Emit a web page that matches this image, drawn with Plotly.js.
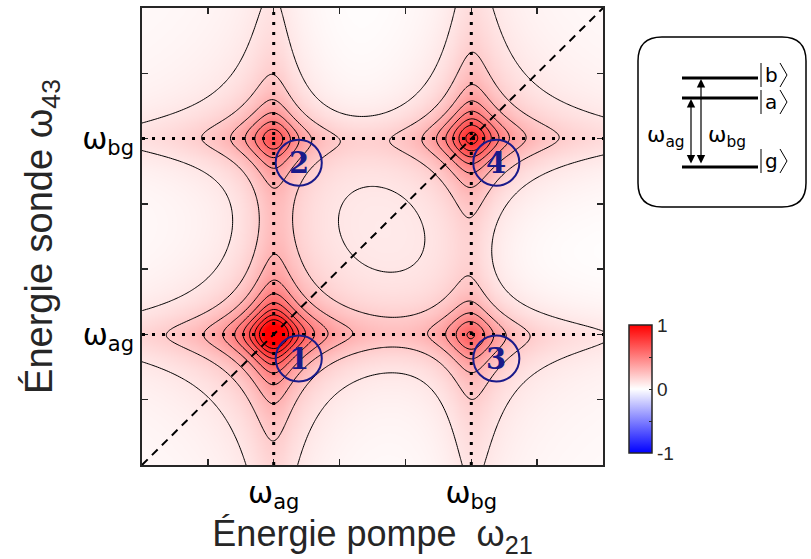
<!DOCTYPE html>
<html>
<head>
<meta charset="utf-8">
<script src="https://cdn.plot.ly/plotly-3.0.1.min.js"></script>
<style>
  html, body { margin: 0; padding: 0; background: #fff; }
  #chart { width: 811px; height: 559px; }
</style>
</head>
<body>
<div id="chart"></div>
<script>
// Transition energies (axis units) and their tick labels
const transitionEnergy = [2, 5];
const transitionLabel = ['ω<sub>ag</sub>', 'ω<sub>bg</sub>'];

// 2D peaks: pump position, probe position, amplitude, phase (deg), label
const peakPump  = [2, 2, 5, 5];
const peakProbe = [2, 5, 2, 5];
const peakAmp   = [1.0, 0.66, 0.60, 0.97];
const peakPhase = [0, 90, 90, 0];
const peakLabel = ['1', '2', '3', '4'];

// Homogeneous linewidth of the Lorentzian lineshape
const lineWidth = [0.3];

// Contour levels: start, end, step
const contourLevels = [0.1, 0.95, 0.1];

// Axis span and tick positions
const axisRange = [0, 7];
const tickPositions = [0, 1, 2, 3, 4, 5, 6, 7];

// Colour bar ticks
const cbarTicks = [-1, -0.5, 0, 0.5, 1];
const cbarText  = ['-1', '', '0', '', '1'];

// --- spectrum: modulus of the coherent sum of complex 2D Lorentzians ---
const N = 211;
const grid = [];
for (let i = 0; i < N; i++) grid.push(axisRange[0] + (axisRange[1] - axisRange[0]) * i / (N - 1));
const g = lineWidth[0];
const z = grid.map(y => grid.map(x => {
  let re = 0, im = 0;
  for (let k = 0; k < peakAmp.length; k++) {
    const a = x - peakPump[k], b = y - peakProbe[k];
    const dr = a * b - g * g, di = g * (a + b);
    const d2 = dr * dr + di * di;
    const tr = peakAmp[k] * g * g * dr / d2, ti = -peakAmp[k] * g * g * di / d2;
    const c = Math.cos(peakPhase[k] * Math.PI / 180), s = Math.sin(peakPhase[k] * Math.PI / 180);
    re += tr * c - ti * s;
    im += tr * s + ti * c;
  }
  return Math.hypot(re, im);
}));

// plot-area geometry (pixels) used to place items outside the axes
const L = 142, R = 603, T = 8, B = 465;
const X = px => (px - L) / (R - L);
const Y = py => (B - py) / (B - T);

const tickText = tickPositions.map(v => {
  const i = transitionEnergy.indexOf(v);
  return i >= 0 ? transitionLabel[i] : '';
});

const traces = [
  {
    type: 'heatmap', x: grid, y: grid, z: z, zsmooth: 'best',
    zmin: -1, zmax: 1, zauto: false,
    colorscale: [[0, 'rgb(0,0,255)'], [0.5, 'rgb(255,255,255)'], [1, 'rgb(255,0,0)']],
    hoverinfo: 'skip',
    colorbar: {
      x: X(619), xanchor: 'left', y: Y(389), yanchor: 'middle',
      thickness: 23, len: 148, lenmode: 'pixels',
      outlinewidth: 1.5, outlinecolor: '#262626',
      tickvals: cbarTicks, ticktext: cbarText,
      ticks: 'inside', ticklen: 3, tickcolor: '#262626',
      tickfont: { family: 'Liberation Sans', size: 19, color: '#262626' }
    }
  },
  {
    type: 'contour', x: grid, y: grid, z: z,
    autocontour: false, showscale: false,
    contours: { coloring: 'none', start: contourLevels[0], end: contourLevels[1], size: contourLevels[2] },
    line: { color: '#000', width: 1, smoothing: 1 },
    hoverinfo: 'skip'
  }
];

const shapes = [];
// dotted guide lines at the transition energies
transitionEnergy.forEach(e => {
  shapes.push({ type: 'line', xref: 'x', yref: 'paper', x0: e, x1: e, y0: 0, y1: 1, line: { color: '#000', width: 3, dash: '3px,7px' } });
  shapes.push({ type: 'line', xref: 'paper', yref: 'y', x0: 0, x1: 1, y0: e, y1: e, line: { color: '#000', width: 3, dash: '3px,7px' } });
});
// diagonal pump = probe
shapes.push({ type: 'line', xref: 'x', yref: 'y', x0: axisRange[0], y0: axisRange[0], x1: axisRange[1], y1: axisRange[1], line: { color: '#000', width: 2, dash: '8px,6px' } });

const annotations = [];
const navy = '#1a1a8a';
// numbered circles next to each peak
peakLabel.forEach((lab, k) => {
  const cx = peakPump[k] + 0.38, cy = peakProbe[k] - 0.37;
  shapes.push({ type: 'circle', xref: 'x', yref: 'y', x0: cx - 0.35, x1: cx + 0.35, y0: cy - 0.352, y1: cy + 0.352, line: { color: navy, width: 2 } });
  annotations.push({ xref: 'x', yref: 'y', x: cx, y: cy, xanchor: 'center', yanchor: 'middle', text: '<b>' + lab + '</b>', showarrow: false, font: { family: 'DejaVu Serif', size: 29, color: navy } });
});

// energy-level diagram
const r = 24, bx0 = 638, bx1 = 806, by0 = 37, by1 = 207;
const P = (px, py) => X(px).toFixed(5) + ',' + Y(py).toFixed(5);
shapes.push({
  type: 'path', xref: 'paper', yref: 'paper', line: { color: '#000', width: 1.5 },
  path: 'M' + P(bx0 + r, by0) + ' L' + P(bx1 - r, by0) + ' Q' + P(bx1, by0) + ' ' + P(bx1, by0 + r) +
        ' L' + P(bx1, by1 - r) + ' Q' + P(bx1, by1) + ' ' + P(bx1 - r, by1) +
        ' L' + P(bx0 + r, by1) + ' Q' + P(bx0, by1) + ' ' + P(bx0, by1 - r) +
        ' L' + P(bx0, by0 + r) + ' Q' + P(bx0, by0) + ' ' + P(bx0 + r, by0) + ' Z'
});
const levelY = { b: 78, a: 98, g: 167 };
const ketY = { b: 75, a: 102, g: 161 };
Object.keys(levelY).forEach(s => {
  shapes.push({ type: 'line', xref: 'paper', yref: 'paper', x0: X(682), x1: X(758), y0: Y(levelY[s]), y1: Y(levelY[s]), line: { color: '#000', width: 3 } });
  // ket |s> : bar, letter, angle bracket
  const yc = ketY[s];
  shapes.push({ type: 'line', xref: 'paper', yref: 'paper', x0: X(761), x1: X(761), y0: Y(yc - 12), y1: Y(yc + 12), line: { color: '#000', width: 1 } });
  shapes.push({ type: 'path', xref: 'paper', yref: 'paper', line: { color: '#000', width: 1 },
    path: 'M' + P(780, yc - 12) + ' L' + P(787, yc) + ' L' + P(780, yc + 12) });
  annotations.push({ xref: 'paper', yref: 'paper', x: X(771), y: Y(yc), xanchor: 'center', yanchor: 'middle', text: s, showarrow: false,
    font: { family: 'DejaVu Sans', size: 20, color: '#000' } });
});
annotations.push(
  { xref: 'paper', yref: 'paper', x: X(691), y: Y(levelY.a + 1), ax: 0, ay: levelY.g - levelY.a - 3, axref: 'pixel', ayref: 'pixel', showarrow: true, arrowhead: 2, arrowside: 'end+start', arrowsize: 1.4, arrowwidth: 1.2, arrowcolor: '#000', text: '' },
  { xref: 'paper', yref: 'paper', x: X(701), y: Y(levelY.b + 1), ax: 0, ay: levelY.g - levelY.b - 3, axref: 'pixel', ayref: 'pixel', showarrow: true, arrowhead: 2, arrowside: 'end+start', arrowsize: 1.4, arrowwidth: 1.2, arrowcolor: '#000', text: '' },
  { xref: 'paper', yref: 'paper', x: X(666), y: Y(136), xanchor: 'center', yanchor: 'middle', text: 'ω<sub>ag</sub>', showarrow: false, font: { family: 'DejaVu Sans', size: 22, color: '#000' } },
  { xref: 'paper', yref: 'paper', x: X(727), y: Y(136), xanchor: 'center', yanchor: 'middle', text: 'ω<sub>bg</sub>', showarrow: false, font: { family: 'DejaVu Sans', size: 22, color: '#000' } }
);

const axisCommon = {
  range: axisRange, tickmode: 'array', tickvals: tickPositions, ticktext: tickText,
  ticks: 'inside', ticklen: 6, tickwidth: 1.5, tickcolor: '#262626',
  showline: true, linewidth: 2, linecolor: '#262626', mirror: 'ticks',
  showgrid: false, zeroline: false,
  tickfont: { family: 'DejaVu Sans', size: 30, color: '#000' }
};

const layout = {
  width: 811, height: 559,
  margin: { l: L, r: 811 - R, t: T, b: 559 - B },
  paper_bgcolor: '#fff', plot_bgcolor: '#fff',
  showlegend: false,
  xaxis: Object.assign({}, axisCommon, {
    title: { text: 'Énergie pompe  ω<sub>21</sub>', standoff: 2, font: { family: 'Liberation Sans', size: 36, color: '#262626' } }
  }),
  yaxis: Object.assign({}, axisCommon, {
    title: { text: 'Énergie sonde ω<sub>43</sub>', standoff: 18, font: { family: 'Liberation Sans', size: 38, color: '#262626' } }
  }),
  shapes: shapes,
  annotations: annotations
};

Plotly.newPlot('chart', traces, layout, { displayModeBar: false, staticPlot: true });
</script>
</body>
</html>
